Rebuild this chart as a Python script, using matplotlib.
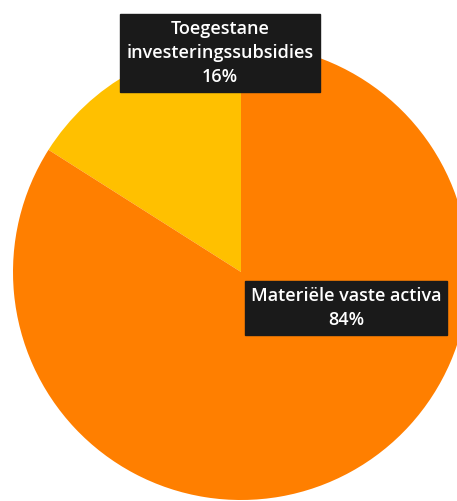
import matplotlib.pyplot as plt

labels = ["Toegestane\ninvesteringssubsidies", "Materiële vaste activa"]
shares = [16, 84]
colors = ["#FFC000", "#FF7F00"]

W, H = 457, 501
fig = plt.figure(figsize=(W / 100, H / 100), dpi=100)
ax = fig.add_axes([0, 0, 1, 1])

# pie in pixel-like coordinates (y measured from bottom)
ax.pie(shares, colors=colors, startangle=90, counterclock=True,
       center=(241, H - 272), radius=228, frame=True,
       wedgeprops=dict(linewidth=0))

ax.set_xlim(0, W)
ax.set_ylim(0, H)
ax.set_aspect("auto")
ax.axis("off")

label_pos = [(220, H - 53), (346, H - 308)]
for lab, val, (x, y) in zip(labels, shares, label_pos):
    ax.text(x, y, f"{lab}\n{val}%", ha="center", va="center",
            color="white", fontsize=13, family="Open Sans", fontweight="semibold",
            linespacing=1.45,
            bbox=dict(boxstyle="square,pad=0.33", facecolor="#1a1a1a", edgecolor="#1a1a1a"))

fig.savefig("out.png", dpi=100)
